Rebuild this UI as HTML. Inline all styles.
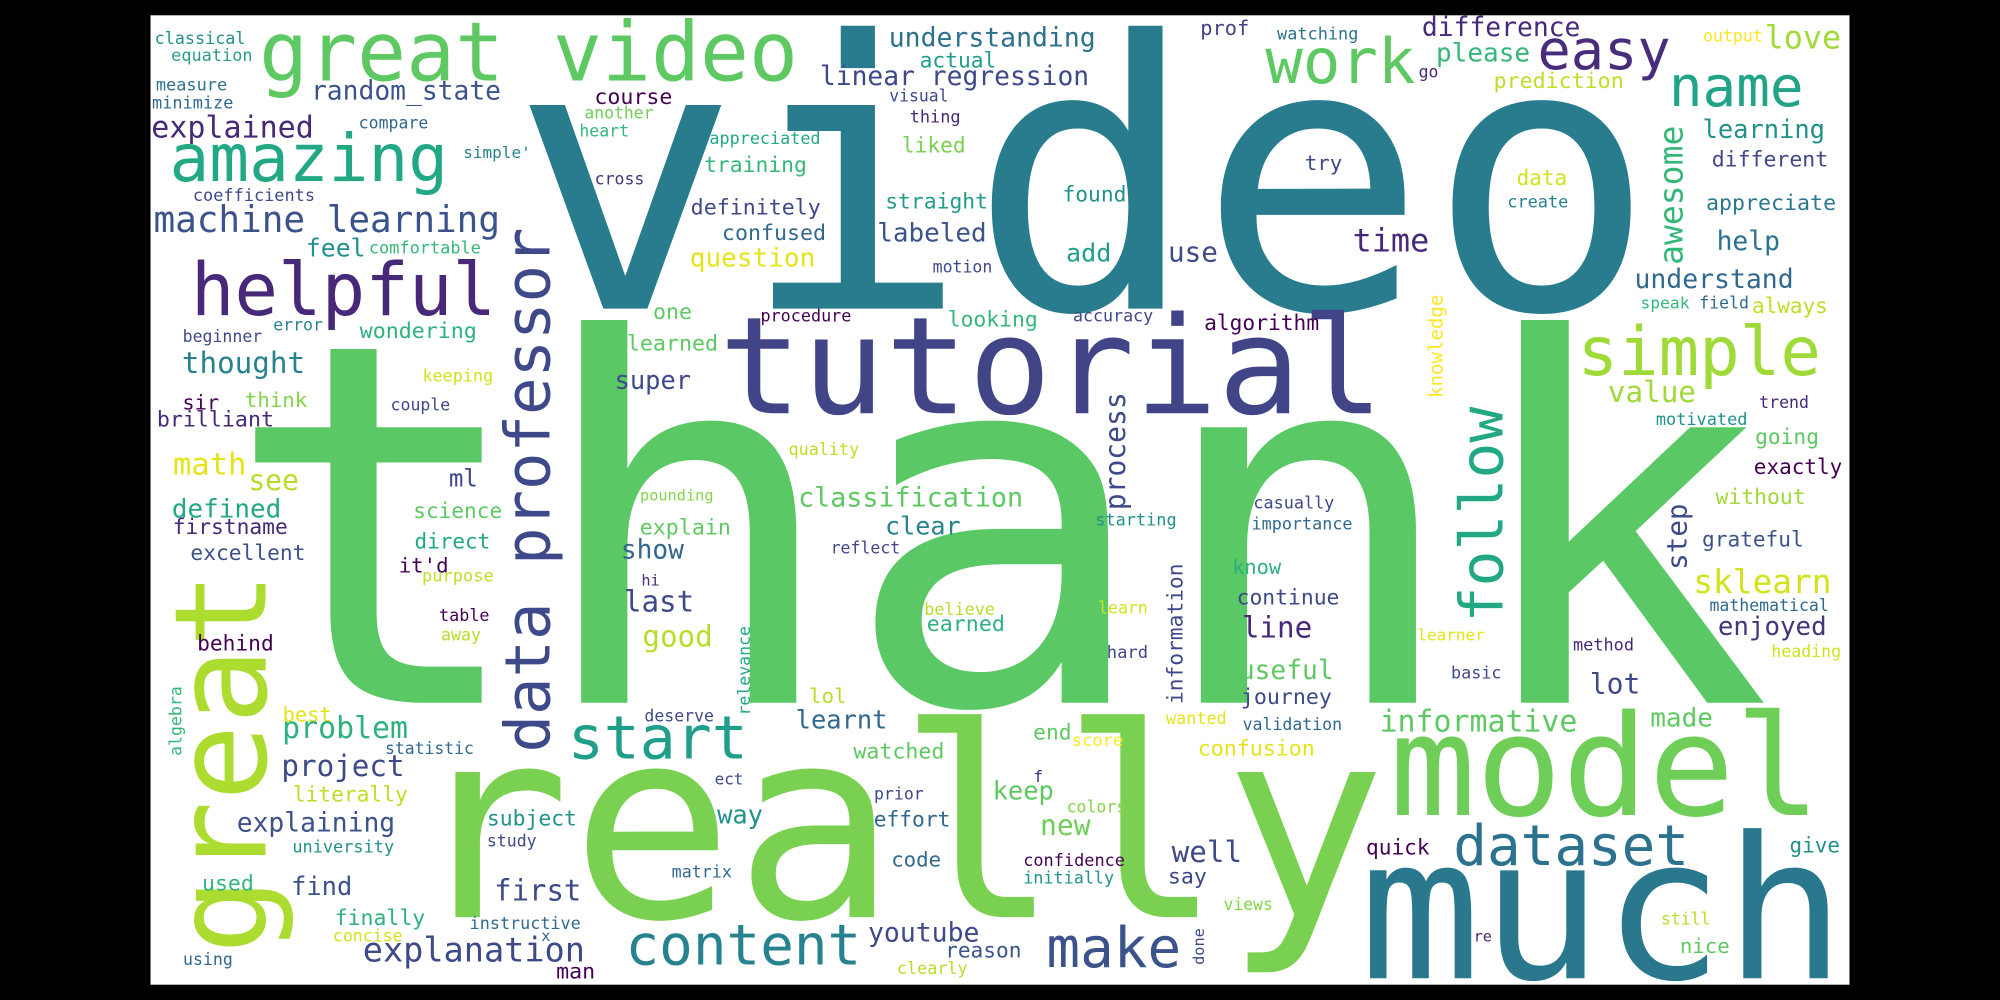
<!DOCTYPE html>
<html><head><meta charset="utf-8"><style>
html,body{margin:0;padding:0;background:#000;width:2000px;height:1000px;overflow:hidden}
svg{display:block}
text{font-family:"DejaVu Sans Mono","Liberation Mono",monospace}
</style></head><body>
<svg id="cloud" width="2000" height="1000" viewBox="0 0 1568 784" xmlns="http://www.w3.org/2000/svg">
<rect x="0" y="0" width="1568" height="784" fill="#000"/>
<rect x="118" y="12" width="1332" height="760" fill="#fff"/>
<g id="words"></g>
</svg>
<script>
// word, left x, baseline y, font size, colour, vertical flag
const W = [
["video",418,242,292,"#287c8e",0],
["thank",198,551,395,"#5ac864",0],
["really",332,719,208,"#7ad151",0],
["much",1075,767,155,"#2a788e",0],
["tutorial",570,324,106,"#414487",0],
["great",208,748,100,"#addc30",1],
["model",1096,639,110,"#6ece58",0],
["great video",207,63,64,"#5ec962",0],
["amazing",136,142,52,"#22a884",0],
["helpful",153,247,57,"#482878",0],
["data professor",431,590,49,"#3e4989",1],
["simple",1240,294,53,"#a0da39",0],
["work",995,65,49,"#5ec962",0],
["easy",1208,54,43.5,"#472d7b",0],
["name",1311,83,44,"#20a386",0],
["follow",1178,488,47,"#22a884",1],
["start",448,594.5,47,"#1f9e89",0],
["dataset",1142,678,44,"#2c728e",0],
["content",493,756,44,"#26828e",0],
["make",823,758,44,"#3b528b",0],
["explanation",286,754,26.4,"#3e4989",0],
["machine learning",122,182,28.3,"#3b528b",0],
["random_state",245,78,20.7,"#3b528b",0],
["explained",120,108,23.6,"#482878",0],
["linear regression",644,66.6,20.7,"#3e4989",0],
["understanding",698,36.6,20.8,"#2c728e",0],
["difference",1116,28.2,20.7,"#482878",0],
["please",1127,48.3,20.5,"#35b779",0],
["prediction",1172,69,17,"#bddf26",0],
["love",1385,38,25,"#a0da39",0],
["prof",942,27.4,16,"#414487",0],
["watching",1002,30.8,13.3,"#2c728e",0],
["output",1336,32.7,13,"#fde725",0],
["classical",122,34.5,13.2,"#21918c",0],
["equation",135,48,13.3,"#2a9d8e",0],
["measure",123,71,13.3,"#2c728e",0],
["minimize",120,85,13.3,"#31688e",0],
["compare",282,100.6,13,"#31688e",0],
["course",467,81.5,17,"#440154",0],
["another",459,93,12.9,"#6ece58",0],
["heart",455,107,13,"#35b779",0],
["actual",722,53,16.7,"#1f9e89",0],
["visual",698,79.7,12.9,"#3e4989",0],
["thing",714,96,13.3,"#482878",0],
["appreciated",557,113,13.2,"#22a884",0],
["liked",708,119.7,16.7,"#7ad151",0],
["training",553,135,16.8,"#35b779",0],
["go",1113,60.6,13,"#482878",0],
["coefficients",152,157.5,13.3,"#3e4989",0],
["simple'",364,124,12.6,"#26828e",0],
["cross",467,144.5,13,"#46337e",0],
["definitely",542.5,168,17,"#3e4989",0],
["straight",695,163.3,16.8,"#1f9e89",0],
["found",834,158,16.7,"#21918c",0],
["try",1024,133.3,16.3,"#3e4989",0],
["data",1190,145,16.5,"#d2e21b",0],
["create",1182.5,162.5,13.3,"#26828e",0],
["learning",1336,108.4,20,"#21918c",0],
["awesome",1319,207.7,26,"#35b779",1],
["different",1343,130.7,16.9,"#3e4989",0],
["appreciate",1338.5,164.6,17,"#2a788e",0],
["labeled",689,189.4,20.4,"#3b528b",0],
["confused",567,188,17,"#31688e",0],
["feel",241,201,19.5,"#21918c",0],
["comfortable",290,198.6,13.3,"#35b779",0],
["time",1062,197.3,25,"#482878",0],
["help",1347,196,20.7,"#2c728e",0],
["add",837,205,19.7,"#1f9e89",0],
["use",917,205,21.7,"#3e4989",0],
["question",542,209,20.5,"#e5e419",0],
["motion",732,213.7,13,"#3e4989",0],
["understand",1282.6,226,20.8,"#31688e",0],
["one",513,250,17,"#5ec962",0],
["procedure",597,252,13.2,"#440154",0],
["looking",744,256,16.8,"#35b779",0],
["accuracy",842,252,13.1,"#3e4989",0],
["algorithm",945,258.7,16.7,"#440154",0],
["knowledge",1131,312,15,"#fde725",1],
["speak",1287,241.7,12.8,"#35b779",0],
["field",1333,241.7,13,"#31688e",0],
["always",1374.6,245.6,16.5,"#bddf26",0],
["beginner",144,268,13,"#3e4989",0],
["error",215,259,13,"#26828e",0],
["wondering",283,265,17,"#2db27d",0],
["learned",492.5,275,17,"#5ec962",0],
["thought",144,292.6,23,"#26828e",0],
["keeping",332,299,13.2,"#d2e21b",0],
["super",483,305,20,"#3e4989",0],
["value",1262,315,23,"#a0da39",0],
["process",882,400,22,"#3e4989",1],
["sir",144,321,16,"#440154",0],
["think",193,319,16.3,"#84d44b",0],
["couple",307,322,13,"#3e4989",0],
["brilliant",124,334.5,17,"#482878",0],
["trend",1380,320,13,"#482878",0],
["motivated",1299,333.2,13.3,"#21918c",0],
["going",1377,348,16.7,"#5ec962",0],
["quality",619,356.7,13.2,"#bddf26",0],
["math",137,372,24,"#e5e419",0],
["ml",353,381.5,19,"#3e4989",0],
["see",196,384,22,"#b5de2b",0],
["exactly",1376,371.6,16.5,"#440154",0],
["classification",627,397,21,"#5ec962",0],
["pounding",502.5,392.5,12,"#84d44b",0],
["casually",983.5,398.5,13.2,"#3e4989",0],
["without",1346,395,16.8,"#a0da39",0],
["defined",136,405.6,20.4,"#22a884",0],
["starting",859.5,412,13.3,"#21918c",0],
["importance",982,415,13.2,"#31688e",0],
["science",325,406,16.6,"#5ec962",0],
["firstname",136.4,418.6,16.7,"#482878",0],
["clear",695,419,19.8,"#26828e",0],
["explain",502.6,419,17,"#5ec962",0],
["step",1322.3,446.8,21.7,"#3e4989",1],
["reflect",652,434,13,"#3e4989",0],
["grateful",1335.4,428.5,16.6,"#3b528b",0],
["excellent",150.3,439,16.7,"#3b528b",0],
["direct",326,430,16.5,"#22a884",0],
["show",488,437.7,20.6,"#31688e",0],
["information",927,552,16.7,"#3e4989",1],
["know",967,450,16,"#2db27d",0],
["it'd",313.6,449,16.3,"#440154",0],
["purpose",331.6,456,13.4,"#bddf26",0],
["hi",503.5,459,12,"#472d7b",0],
["sklearn",1329,465.1,25.8,"#d2e21b",0],
["continue",970.5,474,16.8,"#3e4989",0],
["mathematical",1341,479,13,"#31688e",0],
["last",490.5,479.5,23,"#3e4989",0],
["believe",725.4,482,13.2,"#b5de2b",0],
["learn",861.7,481,13,"#d2e21b",0],
["table",345,487,13.2,"#440154",0],
["line",975,500,23,"#482878",0],
["earned",727.6,494.7,17,"#2db27d",0],
["enjoyed",1348,497.8,20.3,"#46337e",0],
["relevance",588,561,13,"#22a884",1],
["away",346.5,502,13.1,"#b5de2b",0],
["good",505,507,23,"#b5de2b",0],
["learner",1112,502,12.6,"#e5e419",0],
["method",1234,510,13.3,"#482878",0],
["behind",155.5,510,16.7,"#440154",0],
["hard",868.5,516,13.5,"#3e4989",0],
["heading",1389.6,515,13,"#d2e21b",0],
["useful",972.5,532.5,20.6,"#5ec962",0],
["basic",1138.4,532,13.2,"#3e4989",0],
["lot",1247.7,543.6,22,"#3e4989",0],
["algebra",142.4,592.6,13,"#35b779",1],
["lol",635.4,551,16.3,"#b5de2b",0],
["journey",973.8,552,17,"#3e4989",0],
["best",222.6,565.7,16,"#e5e419",0],
["informative",1083,573.6,23.5,"#5ec962",0],
["made",1295,569.7,20.5,"#5ec962",0],
["deserve",506,565.8,13,"#3e4989",0],
["wanted",915,567.6,13.2,"#e5e419",0],
["validation",975,572.5,13,"#31688e",0],
["problem",222.6,578.8,23.5,"#2db27d",0],
["learnt",625,571,20,"#31688e",0],
["end",811,579.6,16.7,"#5ec962",0],
["score",841,585,13.5,"#fde725",0],
["statistic",302.6,591,12.9,"#31688e",0],
["confusion",940,592.5,17,"#e5e419",0],
["watched",670,594.5,17,"#5ec962",0],
["project",222,608.3,23,"#3e4989",0],
["ect",561,615,12.5,"#3e4989",0],
["f",811,613,12.5,"#482878",0],
["literally",230.5,628.5,16.7,"#bddf26",0],
["keep",779.4,627,20,"#5ec962",0],
["prior",686,627,13,"#3e4989",0],
["colors",837,637,13,"#84d44b",0],
["way",563.4,645.5,20,"#21918c",0],
["explaining",186.8,652,20.7,"#3b528b",0],
["effort",686,648,16.7,"#31688e",0],
["subject",382.7,647.3,16.8,"#21918c",0],
["new",816.7,654.6,22,"#6ece58",0],
["university",230,668.4,13.3,"#21918c",0],
["study",382.5,663.7,13,"#3e4989",0],
["well",920,676,23,"#3e4989",0],
["quick",1072,670,16.6,"#440154",0],
["give",1404,668.5,16.5,"#21918c",0],
["code",699.7,679.4,16.3,"#31688e",0],
["confidence",803,679,13.3,"#440154",0],
["matrix",527.4,688,13.1,"#31688e",0],
["say",916.6,692.5,17,"#3e4989",0],
["initially",803,692.5,13.2,"#21918c",0],
["used",159.4,698.2,16.9,"#35b779",0],
["find",229.4,701.6,20,"#3b528b",0],
["first",388.8,706,22.8,"#3e4989",0],
["views",960,713.4,12.9,"#84d44b",0],
["finally",263.4,725.2,16.9,"#2db27d",0],
["instructive",369,728.5,13.2,"#31688e",0],
["still",1303,725,12.9,"#b5de2b",0],
["youtube",681.7,738,20.8,"#3e4989",0],
["x",425,737.7,12,"#31688e",0],
["concise",261.8,738.2,13,"#d2e21b",0],
["re",1156,738,12,"#482878",0],
["reason",742,750.5,16.6,"#3b528b",0],
["nice",1318,747,16.3,"#5ec962",0],
["done",944,756.5,12,"#3e4989",1],
["using",144.3,756.5,13,"#31688e",0],
["man",437,767,17,"#440154",0],
["clearly",704,763.6,13.2,"#b5de2b",0]
];
const g = document.getElementById('words');
const NS = 'http://www.w3.org/2000/svg';
W.forEach(w => {
  const t = document.createElementNS(NS, 'text');
  
  
  const f = w[3] > 100 ? 0.615 : 0.6;
  t.setAttribute('font-size', w[3]);
  t.setAttribute('fill', w[4]);
  t.setAttribute('textLength', (f * w[3] * w[0].length).toFixed(1));
  t.setAttribute('lengthAdjust', 'spacingAndGlyphs');
  if (w[5]) {
    t.setAttribute('transform', 'translate(' + w[1] + ',' + w[2] + ') rotate(-90)');
  } else {
    t.setAttribute('x', (w[1] - 0.06 * w[3]).toFixed(1));
    t.setAttribute('y', w[2]);
  }
  t.textContent = w[0];
  g.appendChild(t);
});
</script>
</body></html>
